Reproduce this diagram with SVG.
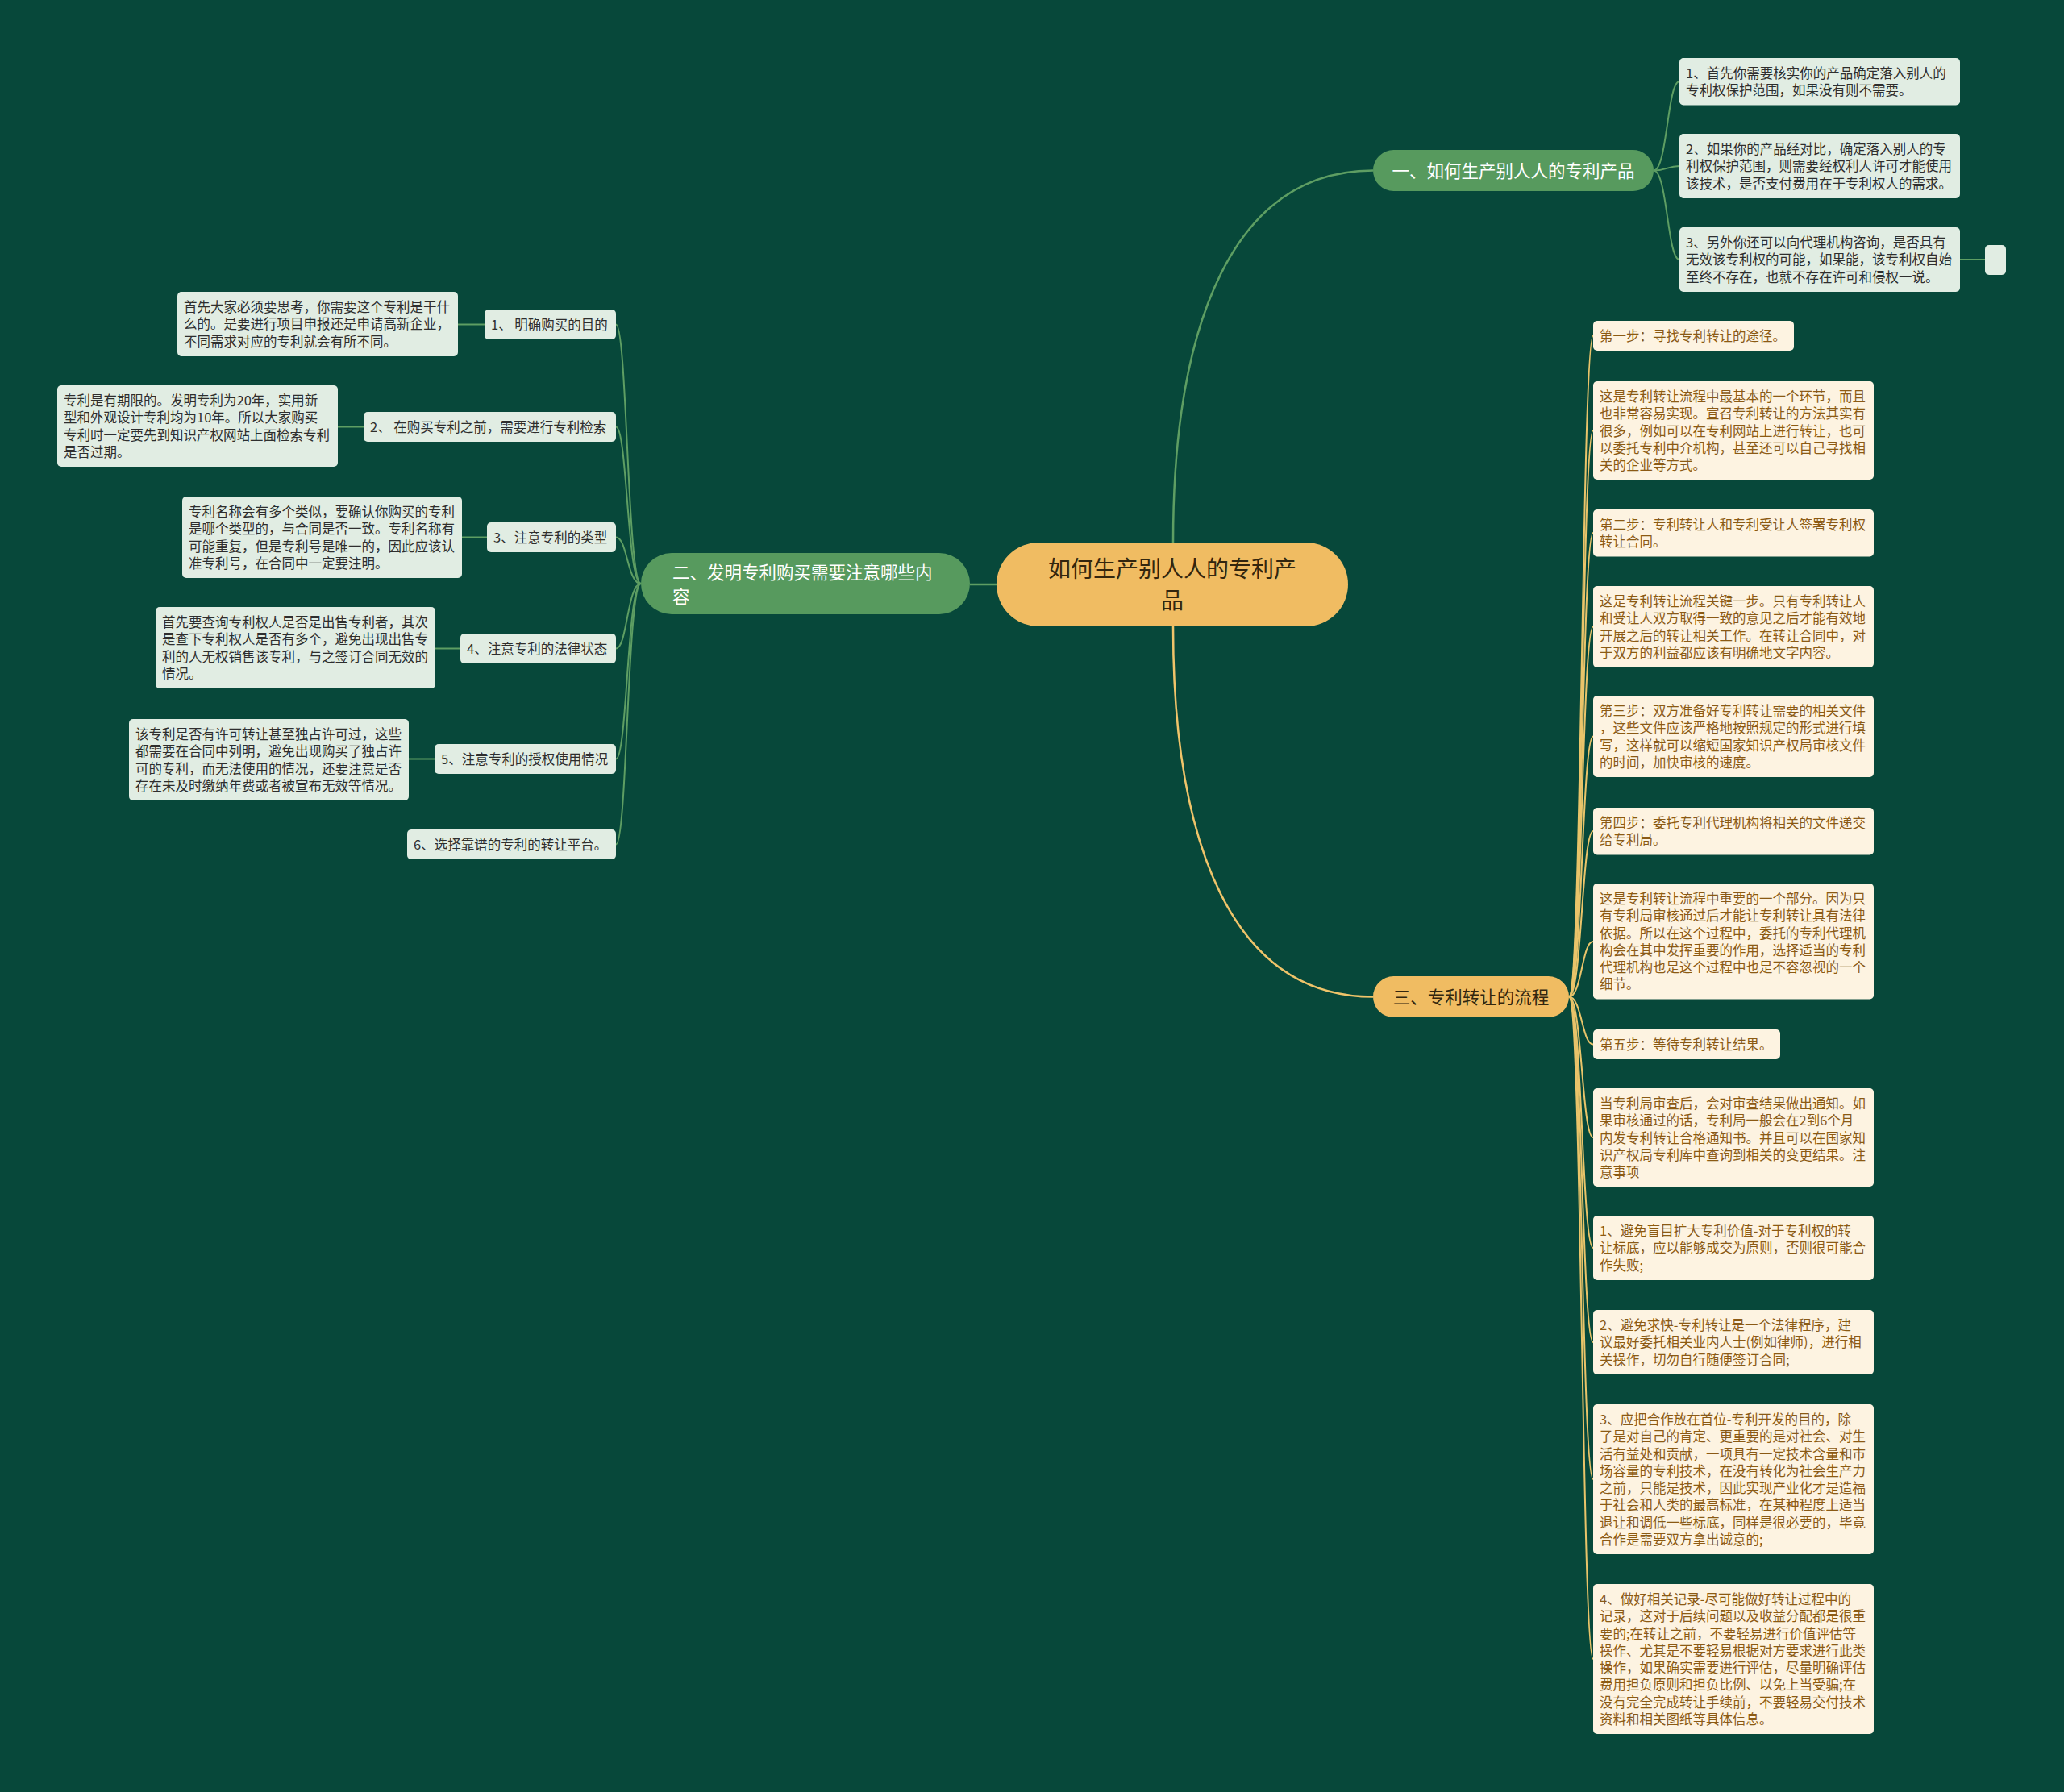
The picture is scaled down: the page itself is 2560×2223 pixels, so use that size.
<svg xmlns="http://www.w3.org/2000/svg" width="2560" height="2223" viewBox="0 0 2560 2223">
<style>
text{font-family:"Noto Sans CJK SC","Noto Sans",sans-serif;}
.bg{fill:#07483A;}
.gl rect{fill:#E1EDE3;}
.gl text{fill:#2E2E2E;font-size:16.5px;}
.yl rect{fill:#FDF3E1;}
.yl text{fill:#8B5A14;font-size:16.5px;}
.cg{fill:none;stroke:#5E9E63;stroke-width:2;}
.cy{fill:none;stroke:#E9C46A;stroke-width:2;}
.mg{fill:none;stroke:#5E9E63;stroke-width:2.5;}
.my{fill:none;stroke:#F0C46A;stroke-width:2.5;}
</style>
<rect class="bg" x="0" y="0" width="2560" height="2223"/>

<g id="connectors">
  <path class="mg" d="M1455,673 C1455,400 1530,211.5 1703,211.5"/>
  <path class="my" d="M1455,777 C1455,1050 1530,1236.5 1703,1236.5"/>
  <path class="mg" d="M1236,725 L1203,725"/>
  <!-- branch 1 leaves -->
  <path class="cg" d="M2051,211.5 C2068,211.5 2068,101 2083,101"/>
  <path class="cg" d="M2051,211.5 C2068,211.5 2068,206 2083,206"/>
  <path class="cg" d="M2051,211.5 C2068,211.5 2068,322 2083,322"/>
  <path class="cg" d="M2431,322 L2462,322"/>
  <!-- branch 2 leaves -->
  <path class="cg" d="M795,724 C778,724 778,402.5 764,402.5"/>
  <path class="cg" d="M795,724 C778,724 778,529.5 764,529.5"/>
  <path class="cg" d="M795,724 C778,724 778,666.5 764,666.5"/>
  <path class="cg" d="M795,724 C778,724 778,804.5 764,804.5"/>
  <path class="cg" d="M795,724 C778,724 778,941.5 764,941.5"/>
  <path class="cg" d="M795,724 C778,724 778,1047.5 764,1047.5"/>
  <path class="cg" d="M568,402.5 L601,402.5"/>
  <path class="cg" d="M419,529.5 L451,529.5"/>
  <path class="cg" d="M573,666.5 L604,666.5"/>
  <path class="cg" d="M540,804.5 L571,804.5"/>
  <path class="cg" d="M507,941.5 L539,941.5"/>
  <!-- branch 3 leaves -->
  <path class="cy" d="M1946,1236.5 C1962,1236.5 1962,416.5 1976,416.5"/>
  <path class="cy" d="M1946,1236.5 C1962,1236.5 1962,534 1976,534"/>
  <path class="cy" d="M1946,1236.5 C1962,1236.5 1962,661 1976,661"/>
  <path class="cy" d="M1946,1236.5 C1962,1236.5 1962,777.5 1976,777.5"/>
  <path class="cy" d="M1946,1236.5 C1962,1236.5 1962,913.5 1976,913.5"/>
  <path class="cy" d="M1946,1236.5 C1962,1236.5 1962,1031 1976,1031"/>
  <path class="cy" d="M1946,1236.5 C1962,1236.5 1962,1168 1976,1168"/>
  <path class="cy" d="M1946,1236.5 C1962,1236.5 1962,1295.5 1976,1295.5"/>
  <path class="cy" d="M1946,1236.5 C1962,1236.5 1962,1411 1976,1411"/>
  <path class="cy" d="M1946,1236.5 C1962,1236.5 1962,1548 1976,1548"/>
  <path class="cy" d="M1946,1236.5 C1962,1236.5 1962,1665 1976,1665"/>
  <path class="cy" d="M1946,1236.5 C1962,1236.5 1962,1835 1976,1835"/>
  <path class="cy" d="M1946,1236.5 C1962,1236.5 1962,2058 1976,2058"/>
</g>

<g id="root">
  <rect x="1236" y="673" width="436" height="104" rx="52" fill="#F0BC62"/>
  <text x="1454" y="715.5" font-size="28" fill="#33260E" text-anchor="middle">如何生产别人人的专利产<tspan x="1454" dy="39">品</tspan></text>
</g>

<g id="branch1">
  <rect x="1703" y="186" width="348" height="51" rx="25.5" fill="#579A5E"/>
  <text x="1877" y="219.5" font-size="21.5" fill="#FFFFFF" text-anchor="middle">一、如何生产别人人的专利产品</text>
</g>
<g id="b1-leaf1" class="gl">
  <rect x="2083" y="72" width="348" height="58.5" rx="5"/>
  <text x="2091" y="97">1、首先你需要核实你的产品确定落入别人的<tspan x="2091" dy="21.25">专利权保护范围，如果没有则不需要。</tspan></text>
</g>
<g id="b1-leaf2" class="gl">
  <rect x="2083" y="166" width="348" height="80" rx="5"/>
  <text x="2091" y="191">2、如果你的产品经对比，确定落入别人的专<tspan x="2091" dy="21.25">利权保护范围，则需要经权利人许可才能使用</tspan><tspan x="2091" dy="21.25">该技术，是否支付费用在于专利权人的需求。</tspan></text>
</g>
<g id="b1-leaf3" class="gl">
  <rect x="2083" y="282" width="348" height="80" rx="5"/>
  <text x="2091" y="307">3、另外你还可以向代理机构咨询，是否具有<tspan x="2091" dy="21.25">无效该专利权的可能，如果能，该专利权自始</tspan><tspan x="2091" dy="21.25">至终不存在，也就不存在许可和侵权一说。</tspan></text>
</g>
<g id="b1-leaf3-child" class="gl">
  <rect x="2462" y="304" width="26" height="37" rx="5"/>
</g>

<g id="branch2">
  <rect x="795" y="686" width="408" height="76" rx="38" fill="#579A5E"/>
  <text x="834" y="718" font-size="21.5" fill="#FFFFFF">二、发明专利购买需要注意哪些内<tspan x="834" dy="30">容</tspan></text>
</g>
<g id="b2-sub1" class="gl">
  <rect x="601" y="384" width="163" height="37" rx="5"/>
  <text x="609" y="409">1、 明确购买的目的</text>
</g>
<g id="b2-sub1-detail" class="gl">
  <rect x="220" y="362" width="348" height="80" rx="5"/>
  <text x="228" y="387">首先大家必须要思考，你需要这个专利是干什<tspan x="228" dy="21.25">么的。是要进行项目申报还是申请高新企业，</tspan><tspan x="228" dy="21.25">不同需求对应的专利就会有所不同。</tspan></text>
</g>
<g id="b2-sub2" class="gl">
  <rect x="451" y="511" width="313" height="37" rx="5"/>
  <text x="459" y="536">2、 在购买专利之前，需要进行专利检索</text>
</g>
<g id="b2-sub2-detail" class="gl">
  <rect x="71" y="478" width="348" height="101" rx="5"/>
  <text x="79" y="503">专利是有期限的。发明专利为20年，实用新<tspan x="79" dy="21.25">型和外观设计专利均为10年。所以大家购买</tspan><tspan x="79" dy="21.25">专利时一定要先到知识产权网站上面检索专利</tspan><tspan x="79" dy="21.25">是否过期。</tspan></text>
</g>
<g id="b2-sub3" class="gl">
  <rect x="604" y="648" width="160" height="37" rx="5"/>
  <text x="612" y="673">3、注意专利的类型</text>
</g>
<g id="b2-sub3-detail" class="gl">
  <rect x="226" y="616" width="347" height="101" rx="5"/>
  <text x="234" y="641">专利名称会有多个类似，要确认你购买的专利<tspan x="234" dy="21.25">是哪个类型的，与合同是否一致。专利名称有</tspan><tspan x="234" dy="21.25">可能重复，但是专利号是唯一的，因此应该认</tspan><tspan x="234" dy="21.25">准专利号，在合同中一定要注明。</tspan></text>
</g>
<g id="b2-sub4" class="gl">
  <rect x="571" y="786" width="193" height="37" rx="5"/>
  <text x="579" y="811">4、注意专利的法律状态</text>
</g>
<g id="b2-sub4-detail" class="gl">
  <rect x="193" y="753" width="347" height="101" rx="5"/>
  <text x="201" y="778">首先要查询专利权人是否是出售专利者，其次<tspan x="201" dy="21.25">是查下专利权人是否有多个，避免出现出售专</tspan><tspan x="201" dy="21.25">利的人无权销售该专利，与之签订合同无效的</tspan><tspan x="201" dy="21.25">情况。</tspan></text>
</g>
<g id="b2-sub5" class="gl">
  <rect x="539" y="923" width="225" height="37" rx="5"/>
  <text x="547" y="948">5、注意专利的授权使用情况</text>
</g>
<g id="b2-sub5-detail" class="gl">
  <rect x="160" y="892" width="347" height="101" rx="5"/>
  <text x="168" y="917">该专利是否有许可转让甚至独占许可过，这些<tspan x="168" dy="21.25">都需要在合同中列明，避免出现购买了独占许</tspan><tspan x="168" dy="21.25">可的专利，而无法使用的情况，还要注意是否</tspan><tspan x="168" dy="21.25">存在未及时缴纳年费或者被宣布无效等情况。</tspan></text>
</g>
<g id="b2-sub6" class="gl">
  <rect x="505" y="1029" width="259" height="37" rx="5"/>
  <text x="513" y="1054">6、选择靠谱的专利的转让平台。</text>
</g>

<g id="branch3">
  <rect x="1703" y="1211" width="243" height="51" rx="25.5" fill="#F0BC62"/>
  <text x="1824.5" y="1244.5" font-size="21.5" fill="#33260E" text-anchor="middle">三、专利转让的流程</text>
</g>
<g id="b3-leaf1" class="yl">
  <rect x="1976" y="398" width="249" height="37" rx="5"/>
  <text x="1984" y="423">第一步：寻找专利转让的途径。</text>
</g>
<g id="b3-leaf2" class="yl">
  <rect x="1976" y="473" width="348" height="122" rx="5"/>
  <text x="1984" y="498">这是专利转让流程中最基本的一个环节，而且<tspan x="1984" dy="21.25">也非常容易实现。宣召专利转让的方法其实有</tspan><tspan x="1984" dy="21.25">很多，例如可以在专利网站上进行转让，也可</tspan><tspan x="1984" dy="21.25">以委托专利中介机构，甚至还可以自己寻找相</tspan><tspan x="1984" dy="21.25">关的企业等方式。</tspan></text>
</g>
<g id="b3-leaf3" class="yl">
  <rect x="1976" y="632" width="348" height="58.5" rx="5"/>
  <text x="1984" y="657">第二步：专利转让人和专利受让人签署专利权<tspan x="1984" dy="21.25">转让合同。</tspan></text>
</g>
<g id="b3-leaf4" class="yl">
  <rect x="1976" y="727" width="348" height="101" rx="5"/>
  <text x="1984" y="752">这是专利转让流程关键一步。只有专利转让人<tspan x="1984" dy="21.25">和受让人双方取得一致的意见之后才能有效地</tspan><tspan x="1984" dy="21.25">开展之后的转让相关工作。在转让合同中，对</tspan><tspan x="1984" dy="21.25">于双方的利益都应该有明确地文字内容。</tspan></text>
</g>
<g id="b3-leaf5" class="yl">
  <rect x="1976" y="863" width="348" height="101" rx="5"/>
  <text x="1984" y="888">第三步：双方准备好专利转让需要的相关文件<tspan x="1984" dy="21.25">，这些文件应该严格地按照规定的形式进行填</tspan><tspan x="1984" dy="21.25">写，这样就可以缩短国家知识产权局审核文件</tspan><tspan x="1984" dy="21.25">的时间，加快审核的速度。</tspan></text>
</g>
<g id="b3-leaf6" class="yl">
  <rect x="1976" y="1002" width="348" height="58.5" rx="5"/>
  <text x="1984" y="1027">第四步：委托专利代理机构将相关的文件递交<tspan x="1984" dy="21.25">给专利局。</tspan></text>
</g>
<g id="b3-leaf7" class="yl">
  <rect x="1976" y="1096" width="348" height="143.5" rx="5"/>
  <text x="1984" y="1121">这是专利转让流程中重要的一个部分。因为只<tspan x="1984" dy="21.25">有专利局审核通过后才能让专利转让具有法律</tspan><tspan x="1984" dy="21.25">依据。所以在这个过程中，委托的专利代理机</tspan><tspan x="1984" dy="21.25">构会在其中发挥重要的作用，选择适当的专利</tspan><tspan x="1984" dy="21.25">代理机构也是这个过程中也是不容忽视的一个</tspan><tspan x="1984" dy="21.25">细节。</tspan></text>
</g>
<g id="b3-leaf8" class="yl">
  <rect x="1976" y="1277" width="232" height="37" rx="5"/>
  <text x="1984" y="1302">第五步：等待专利转让结果。</text>
</g>
<g id="b3-leaf9" class="yl">
  <rect x="1976" y="1350" width="348" height="122" rx="5"/>
  <text x="1984" y="1375">当专利局审查后，会对审查结果做出通知。如<tspan x="1984" dy="21.25">果审核通过的话，专利局一般会在2到6个月</tspan><tspan x="1984" dy="21.25">内发专利转让合格通知书。并且可以在国家知</tspan><tspan x="1984" dy="21.25">识产权局专利库中查询到相关的变更结果。注</tspan><tspan x="1984" dy="21.25">意事项</tspan></text>
</g>
<g id="b3-leaf10" class="yl">
  <rect x="1976" y="1508" width="348" height="80" rx="5"/>
  <text x="1984" y="1533">1、避免盲目扩大专利价值-对于专利权的转<tspan x="1984" dy="21.25">让标底，应以能够成交为原则，否则很可能合</tspan><tspan x="1984" dy="21.25">作失败;</tspan></text>
</g>
<g id="b3-leaf11" class="yl">
  <rect x="1976" y="1625" width="348" height="80" rx="5"/>
  <text x="1984" y="1650">2、避免求快-专利转让是一个法律程序，建<tspan x="1984" dy="21.25">议最好委托相关业内人士(例如律师)，进行相</tspan><tspan x="1984" dy="21.25">关操作，切勿自行随便签订合同;</tspan></text>
</g>
<g id="b3-leaf12" class="yl">
  <rect x="1976" y="1742" width="348" height="186" rx="5"/>
  <text x="1984" y="1767">3、应把合作放在首位-专利开发的目的，除<tspan x="1984" dy="21.25">了是对自己的肯定、更重要的是对社会、对生</tspan><tspan x="1984" dy="21.25">活有益处和贡献，一项具有一定技术含量和市</tspan><tspan x="1984" dy="21.25">场容量的专利技术，在没有转化为社会生产力</tspan><tspan x="1984" dy="21.25">之前，只能是技术，因此实现产业化才是造福</tspan><tspan x="1984" dy="21.25">于社会和人类的最高标准，在某种程度上适当</tspan><tspan x="1984" dy="21.25">退让和调低一些标底，同样是很必要的，毕竟</tspan><tspan x="1984" dy="21.25">合作是需要双方拿出诚意的;</tspan></text>
</g>
<g id="b3-leaf13" class="yl">
  <rect x="1976" y="1965" width="348" height="186" rx="5"/>
  <text x="1984" y="1990">4、做好相关记录-尽可能做好转让过程中的<tspan x="1984" dy="21.25">记录，这对于后续问题以及收益分配都是很重</tspan><tspan x="1984" dy="21.25">要的;在转让之前，不要轻易进行价值评估等</tspan><tspan x="1984" dy="21.25">操作、尤其是不要轻易根据对方要求进行此类</tspan><tspan x="1984" dy="21.25">操作，如果确实需要进行评估，尽量明确评估</tspan><tspan x="1984" dy="21.25">费用担负原则和担负比例、以免上当受骗;在</tspan><tspan x="1984" dy="21.25">没有完全完成转让手续前，不要轻易交付技术</tspan><tspan x="1984" dy="21.25">资料和相关图纸等具体信息。</tspan></text>
</g>
</svg>
